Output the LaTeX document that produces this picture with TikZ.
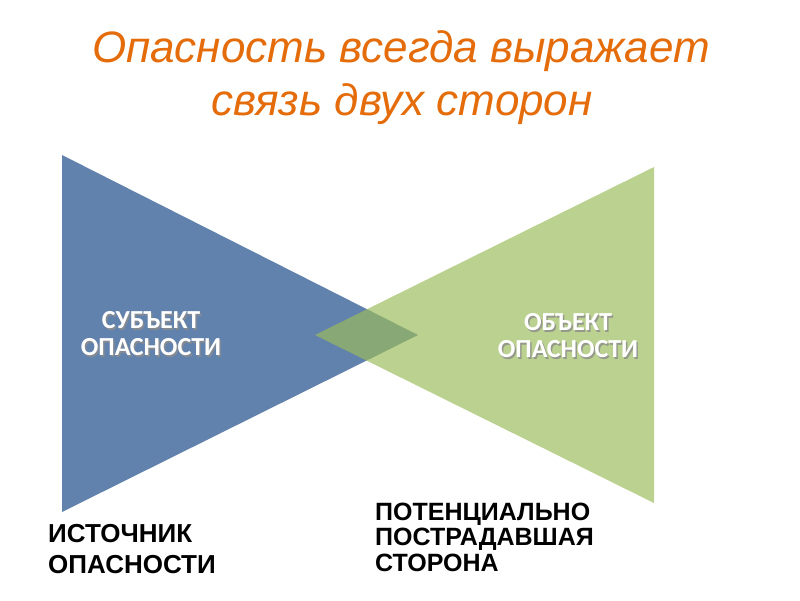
\documentclass[tikz,border=0pt]{standalone}
\usepackage{fontspec}
\setmainfont{Liberation Sans}
\newfontfamily\calib{Carlito}
\definecolor{titleor}{HTML}{E46C0A}
\definecolor{subjblue}{HTML}{6282AE}
\definecolor{objgreen}{HTML}{9BBB59}
\begin{document}
\begin{tikzpicture}[x=1pt,y=-1pt,
  titletext/.style={text=titleor,font=\itshape\fontsize{44}{50}\selectfont,inner sep=0pt},
  innerlbl/.style={text=white,font=\calib\bfseries\fontsize{26}{27}\selectfont,align=center,inner sep=0pt},
  innershadow/.style={text=black!45,font=\calib\bfseries\fontsize{26}{27}\selectfont,align=center,inner sep=0pt,opacity=0.8},
  bottomlbl/.style={text=black,font=\bfseries\fontsize{26}{31}\selectfont,align=left,inner sep=0pt,anchor=north west},
  bottomlblb/.style={text=black,font=\bfseries\fontsize{25}{25.5}\selectfont,align=left,inner sep=0pt,anchor=north west}]
\useasboundingbox (0,0) rectangle (800,600);
\fill[white] (0,0) rectangle (800,600);
% title
\node[titletext,anchor=base] (t1) at (401,62) {Опасность всегда выражает};
\node[titletext,anchor=base] (t2) at (402,115) {связь двух сторон};
% triangles
\fill[subjblue] (62,155) -- (62,512) -- (418,335) -- cycle;
\fill[objgreen,fill opacity=0.67] (654,167) -- (654,503) -- (315,335) -- cycle;
% inner labels
\node[innershadow] (s1s) at (152.5,335.5) {СУБЪЕКТ\\ОПАСНОСТИ};
\node[innerlbl] (s1) at (151,334) {СУБЪЕКТ\\ОПАСНОСТИ};
\node[innershadow] (o1s) at (569.5,337.5) {ОБЪЕКТ\\ОПАСНОСТИ};
\node[innerlbl] (o1) at (568,336) {ОБЪЕКТ\\ОПАСНОСТИ};
% bottom labels
\node[bottomlbl] (src) at (48,524) {ИСТОЧНИК\\ОПАСНОСТИ};
\node[bottomlblb] (vict) at (375,502.5) {ПОТЕНЦИАЛЬНО\\ПОСТРАДАВШАЯ\\СТОРОНА};
\end{tikzpicture}
\end{document}
